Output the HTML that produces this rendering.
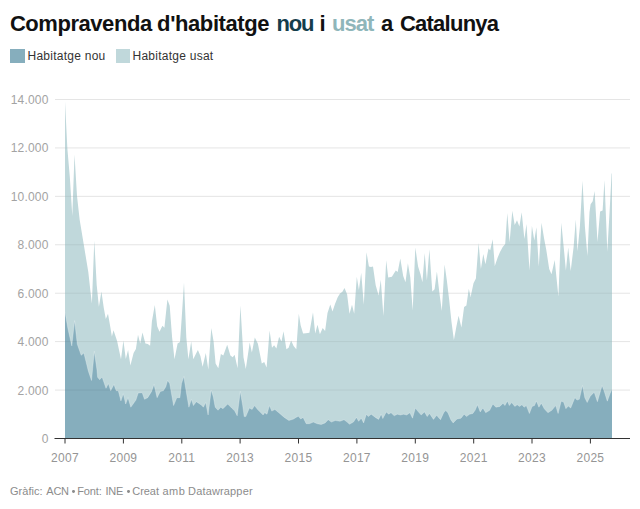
<!DOCTYPE html>
<html><head><meta charset="utf-8"><title>Compravenda d'habitatge</title>
<style>
html,body{margin:0;padding:0;background:#fff;}
body{width:640px;height:509px;position:relative;overflow:hidden;font-family:"Liberation Sans",sans-serif;}
.title{position:absolute;left:10px;top:10.5px;width:600px;height:26px;font-weight:bold;font-size:22px;line-height:26px;color:#111;white-space:nowrap;}
.title .w{position:absolute;top:0;}
.title .n{color:#143d4c;}
.title .u{color:#8fb6ba;}
.leg{position:absolute;top:49px;font-size:12px;line-height:normal;letter-spacing:0.25px;color:#333;white-space:nowrap;}
.sw{position:absolute;top:48.5px;width:14.5px;height:14px;}
.yl{position:absolute;left:0;width:48.6px;text-align:right;font-size:12px;line-height:16px;letter-spacing:0.2px;color:#a3a3a3;}
.xl{position:absolute;top:449.5px;width:50px;text-align:center;font-size:12px;line-height:16px;letter-spacing:0.3px;color:#959595;}
.foot{position:absolute;left:10px;top:485.4px;width:400px;height:14px;font-size:11px;line-height:normal;color:#8c8c8c;white-space:nowrap;}
.foot span{position:absolute;top:0;}
.foot i{position:absolute;top:4.5px;width:2.8px;height:2.8px;border-radius:50%;background:#8c8c8c;}
svg{position:absolute;left:0;top:0;}
</style></head><body>
<div class="title"><span class="w " style="left:-0.1px;letter-spacing:-0.45px">Compravenda</span><span class="w " style="left:147.1px;letter-spacing:-0.4px">d'habitatge</span><span class="w n" style="left:266.5px;letter-spacing:-1.25px">nou</span><span class="w " style="left:309.6px;letter-spacing:-1.0px">i</span><span class="w u" style="left:321.9px;letter-spacing:-0.9px">usat</span><span class="w " style="left:371.1px;letter-spacing:-1.0px">a</span><span class="w " style="left:389.9px;letter-spacing:-0.75px">Catalunya</span></div>
<div class="sw" style="left:10.2px;background:#86aebd"></div><div class="leg" style="left:27.5px">Habitatge nou</div>
<div class="sw" style="left:115.7px;background:#c0d8db"></div><div class="leg" style="left:132.5px">Habitatge usat</div>
<svg width="640" height="509" viewBox="0 0 640 509">
<line x1="55" x2="630" y1="390.07" y2="390.07" stroke="#000" stroke-opacity="0.05" stroke-width="1"/>
<line x1="55" x2="630" y1="341.64" y2="341.64" stroke="#000" stroke-opacity="0.05" stroke-width="1"/>
<line x1="55" x2="630" y1="293.21" y2="293.21" stroke="#000" stroke-opacity="0.05" stroke-width="1"/>
<line x1="55" x2="630" y1="244.78" y2="244.78" stroke="#000" stroke-opacity="0.05" stroke-width="1"/>
<line x1="55" x2="630" y1="196.35" y2="196.35" stroke="#000" stroke-opacity="0.05" stroke-width="1"/>
<line x1="55" x2="630" y1="147.92" y2="147.92" stroke="#000" stroke-opacity="0.05" stroke-width="1"/>
<line x1="55" x2="630" y1="99.49" y2="99.49" stroke="#000" stroke-opacity="0.05" stroke-width="1"/>

<polygon points="65.0,438.5 65.0,101.5 67.4,149.0 69.8,176.7 72.3,216.0 74.5,154.5 77.0,196.0 79.7,220.0 83.6,243.6 88.3,271.9 90.3,290.0 91.9,303.6 94.3,240.4 96.7,285.0 98.9,306.7 101.4,291.5 103.8,308.0 105.8,319.0 108.0,313.8 110.3,327.0 111.9,336.6 113.5,330.2 117.1,341.1 121.0,359.2 123.4,340.4 125.8,359.0 128.1,350.0 130.4,365.5 133.6,352.9 135.9,349.0 138.0,334.8 140.2,343.5 142.5,332.5 145.4,343.5 147.8,344.0 150.1,345.8 151.9,321.4 154.8,304.9 157.2,326.2 159.5,331.7 162.4,325.8 164.4,327.7 167.4,299.4 169.7,305.7 172.1,337.2 174.5,359.2 177.6,343.5 180.0,341.9 181.7,318.0 184.0,282.6 186.3,337.2 188.4,359.2 191.2,341.6 193.3,359.2 195.6,354.5 197.9,350.0 200.4,356.0 202.6,366.8 205.8,353.0 208.3,369.5 211.3,328.1 213.6,341.4 215.6,363.5 218.3,368.2 220.9,354.0 223.3,355.6 227.2,344.8 230.4,355.6 232.7,357.2 234.6,354.8 237.6,368.2 240.4,305.4 243.5,357.2 245.8,369.0 249.7,342.5 251.9,352.5 254.8,337.5 257.9,343.8 261.8,363.5 264.2,361.9 266.6,367.4 269.6,330.4 272.0,347.7 274.1,345.2 276.4,348.5 279.1,336.7 281.5,341.4 283.5,331.2 286.4,349.3 288.6,347.7 291.1,340.6 293.6,346.0 296.3,349.2 298.8,313.8 300.7,325.6 303.1,333.5 306.0,333.2 309.4,332.7 313.0,312.2 315.2,333.5 317.5,324.8 319.9,334.2 322.7,328.0 325.1,331.1 327.5,313.0 330.3,304.4 332.5,311.4 335.0,304.0 337.7,297.3 340.0,293.4 342.4,291.8 344.5,287.9 347.1,294.2 349.5,313.8 352.0,304.8 354.2,313.8 356.8,276.7 358.9,290.0 361.2,272.7 363.8,304.8 366.5,252.3 368.9,266.4 371.0,267.0 373.0,266.4 375.7,285.3 378.6,295.6 380.8,279.8 383.4,316.0 386.2,260.2 388.2,277.5 391.9,276.7 393.9,273.5 395.8,270.4 397.7,272.0 400.3,258.6 403.2,275.9 405.5,282.2 407.9,263.3 410.3,277.5 412.7,310.5 415.3,247.6 418.1,266.4 420.5,274.3 422.4,282.2 424.7,253.1 426.9,280.6 429.4,249.2 432.3,291.6 434.6,289.2 436.9,271.5 439.4,293.0 441.8,311.0 444.6,264.6 446.8,280.0 449.2,300.0 451.5,322.0 453.9,340.0 456.3,327.0 458.6,315.7 461.4,327.5 464.1,307.0 466.4,305.4 468.8,288.8 470.6,297.0 473.5,283.2 475.9,278.5 478.6,243.1 480.9,269.0 483.3,254.1 485.4,264.3 488.5,248.6 490.2,250.2 492.7,239.2 494.8,265.9 497.5,258.0 500.0,252.0 502.7,247.0 505.2,243.9 507.3,213.1 509.6,242.2 512.3,210.7 514.7,224.9 517.0,220.2 519.4,226.4 521.7,212.3 524.4,239.0 526.5,224.1 529.5,270.5 531.9,225.7 534.3,240.6 536.4,227.2 538.8,266.4 541.5,222.8 544.0,238.0 546.3,250.0 549.2,268.9 551.5,274.2 554.7,260.0 558.4,296.6 561.3,222.8 563.7,246.9 565.9,270.5 568.2,247.4 570.7,271.0 573.6,246.9 575.8,219.6 577.5,251.3 579.9,226.4 582.5,180.7 584.9,226.4 587.4,256.0 589.5,212.2 590.6,204.3 592.7,201.2 594.6,191.0 596.1,216.9 597.5,242.0 600.1,211.4 602.6,210.6 604.5,180.0 606.4,227.9 607.3,251.8 609.4,215.0 611.6,173.6 612.0,173.6 612.0,438.5" fill="#c0d8db"/>
<polygon points="65.0,438.5 65.0,312.1 67.9,328.6 71.8,345.9 74.6,320.7 77.3,344.3 81.2,355.3 83.9,353.0 88.3,371.0 91.5,380.5 94.3,351.4 96.9,369.5 97.6,377.3 99.7,379.7 102.1,377.0 106.0,388.3 108.4,383.6 110.7,390.7 113.9,384.4 116.2,390.7 118.3,390.7 120.9,400.9 123.3,393.8 125.7,404.0 128.0,397.7 130.8,407.2 135.9,400.1 138.2,393.0 142.2,392.7 144.5,399.3 147.7,397.7 151.6,391.4 154.0,384.4 157.1,397.7 160.3,391.4 163.4,390.7 165.8,386.7 167.6,380.4 169.7,383.6 173.6,405.6 176.8,397.7 179.9,397.7 181.5,383.6 183.8,376.5 186.2,391.4 188.9,407.2 191.4,399.3 193.4,405.6 196.3,401.7 201.0,404.8 203.4,407.2 205.7,402.5 208.1,415.0 211.2,389.9 213.3,396.9 215.2,407.2 218.0,410.3 220.7,407.2 223.0,408.7 227.7,404.0 231.7,408.0 234.8,411.1 237.2,415.8 240.3,391.4 242.7,405.6 244.2,416.6 245.8,416.6 249.4,408.0 252.1,409.5 254.5,405.6 257.6,409.5 263.1,415.0 264.7,412.7 267.0,414.2 269.4,405.6 271.8,411.1 274.9,409.5 278.8,412.7 284.3,417.4 288.9,420.5 293.6,419.0 296.0,417.4 298.4,416.3 300.7,419.0 303.1,417.4 306.2,423.7 309.4,423.7 313.3,422.1 317.2,423.7 321.2,424.5 325.1,422.9 328.2,419.7 331.4,422.1 335.3,420.5 340.0,421.3 344.0,419.7 347.1,422.1 349.5,424.2 353.4,422.1 356.5,417.4 358.6,421.3 361.3,418.2 363.6,422.9 366.4,414.2 368.3,416.6 371.2,414.2 375.4,417.4 378.6,419.4 381.2,414.2 382.8,418.6 386.3,411.9 388.6,414.2 391.0,412.7 394.2,415.8 397.3,414.2 400.4,415.0 403.6,414.2 406.7,415.0 409.9,412.7 412.5,418.2 415.4,408.0 417.7,411.1 421.2,415.0 424.5,411.9 427.2,416.6 429.5,413.5 433.5,419.4 436.6,415.3 440.5,419.7 443.7,412.7 445.7,410.6 447.9,412.7 450.8,419.7 453.1,422.9 457.0,419.0 461.0,418.2 464.1,414.2 466.5,416.6 469.6,414.2 472.8,413.5 475.1,410.3 477.5,404.8 480.2,411.9 482.9,408.0 485.7,412.7 489.7,410.3 492.8,404.0 495.9,407.2 499.9,406.4 503.0,403.2 504.9,405.6 507.4,400.9 509.3,405.6 511.7,402.5 514.8,406.4 517.2,404.8 519.5,406.4 521.9,404.8 524.2,407.2 526.3,405.6 529.4,413.5 532.1,406.4 534.5,405.6 536.4,400.9 538.9,407.2 541.3,403.2 544.3,408.8 547.9,412.7 551.8,410.3 555.7,405.6 558.1,413.5 561.2,401.2 563.6,402.0 565.9,408.7 568.3,406.0 570.7,408.0 574.9,397.7 577.0,400.1 579.3,399.3 582.5,385.5 584.8,397.7 587.2,402.5 590.3,396.2 594.2,392.2 597.4,401.7 602.1,385.5 604.5,392.2 607.3,401.2 610.0,393.8 612.0,389.1 612.0,438.5" fill="#86aebd"/>
<polyline points="65.0,312.1 67.9,328.6 71.8,345.9 74.6,320.7 77.3,344.3 81.2,355.3 83.9,353.0 88.3,371.0 91.5,380.5 94.3,351.4 96.9,369.5 97.6,377.3 99.7,379.7 102.1,377.0 106.0,388.3 108.4,383.6 110.7,390.7 113.9,384.4 116.2,390.7 118.3,390.7 120.9,400.9 123.3,393.8 125.7,404.0 128.0,397.7 130.8,407.2 135.9,400.1 138.2,393.0 142.2,392.7 144.5,399.3 147.7,397.7 151.6,391.4 154.0,384.4 157.1,397.7 160.3,391.4 163.4,390.7 165.8,386.7 167.6,380.4 169.7,383.6 173.6,405.6 176.8,397.7 179.9,397.7 181.5,383.6 183.8,376.5 186.2,391.4 188.9,407.2 191.4,399.3 193.4,405.6 196.3,401.7 201.0,404.8 203.4,407.2 205.7,402.5 208.1,415.0 211.2,389.9 213.3,396.9 215.2,407.2 218.0,410.3 220.7,407.2 223.0,408.7 227.7,404.0 231.7,408.0 234.8,411.1 237.2,415.8 240.3,391.4 242.7,405.6 244.2,416.6 245.8,416.6 249.4,408.0 252.1,409.5 254.5,405.6 257.6,409.5 263.1,415.0 264.7,412.7 267.0,414.2 269.4,405.6 271.8,411.1 274.9,409.5 278.8,412.7 284.3,417.4 288.9,420.5 293.6,419.0 296.0,417.4 298.4,416.3 300.7,419.0 303.1,417.4 306.2,423.7 309.4,423.7 313.3,422.1 317.2,423.7 321.2,424.5 325.1,422.9 328.2,419.7 331.4,422.1 335.3,420.5 340.0,421.3 344.0,419.7 347.1,422.1 349.5,424.2 353.4,422.1 356.5,417.4 358.6,421.3 361.3,418.2 363.6,422.9 366.4,414.2 368.3,416.6 371.2,414.2 375.4,417.4 378.6,419.4 381.2,414.2 382.8,418.6 386.3,411.9 388.6,414.2 391.0,412.7 394.2,415.8 397.3,414.2 400.4,415.0 403.6,414.2 406.7,415.0 409.9,412.7 412.5,418.2 415.4,408.0 417.7,411.1 421.2,415.0 424.5,411.9 427.2,416.6 429.5,413.5 433.5,419.4 436.6,415.3 440.5,419.7 443.7,412.7 445.7,410.6 447.9,412.7 450.8,419.7 453.1,422.9 457.0,419.0 461.0,418.2 464.1,414.2 466.5,416.6 469.6,414.2 472.8,413.5 475.1,410.3 477.5,404.8 480.2,411.9 482.9,408.0 485.7,412.7 489.7,410.3 492.8,404.0 495.9,407.2 499.9,406.4 503.0,403.2 504.9,405.6 507.4,400.9 509.3,405.6 511.7,402.5 514.8,406.4 517.2,404.8 519.5,406.4 521.9,404.8 524.2,407.2 526.3,405.6 529.4,413.5 532.1,406.4 534.5,405.6 536.4,400.9 538.9,407.2 541.3,403.2 544.3,408.8 547.9,412.7 551.8,410.3 555.7,405.6 558.1,413.5 561.2,401.2 563.6,402.0 565.9,408.7 568.3,406.0 570.7,408.0 574.9,397.7 577.0,400.1 579.3,399.3 582.5,385.5 584.8,397.7 587.2,402.5 590.3,396.2 594.2,392.2 597.4,401.7 602.1,385.5 604.5,392.2 607.3,401.2 610.0,393.8 612.0,389.1" fill="none" stroke="#ffffff" stroke-opacity="0.25" stroke-width="1" stroke-linejoin="round"/>
<line x1="55" x2="630" y1="390.07" y2="390.07" stroke="#000" stroke-opacity="0.06" stroke-width="1"/>
<line x1="55" x2="630" y1="341.64" y2="341.64" stroke="#000" stroke-opacity="0.06" stroke-width="1"/>
<line x1="55" x2="630" y1="293.21" y2="293.21" stroke="#000" stroke-opacity="0.06" stroke-width="1"/>
<line x1="55" x2="630" y1="244.78" y2="244.78" stroke="#000" stroke-opacity="0.06" stroke-width="1"/>
<line x1="55" x2="630" y1="196.35" y2="196.35" stroke="#000" stroke-opacity="0.06" stroke-width="1"/>
<line x1="55" x2="630" y1="147.92" y2="147.92" stroke="#000" stroke-opacity="0.06" stroke-width="1"/>
<line x1="55" x2="630" y1="99.49" y2="99.49" stroke="#000" stroke-opacity="0.06" stroke-width="1"/>

<line x1="54.5" x2="630" y1="438.5" y2="438.5" stroke="#333" stroke-width="1"/>
<line x1="65.0" x2="65.0" y1="438.5" y2="443.5" stroke="#333" stroke-width="1"/>
<line x1="123.4" x2="123.4" y1="438.5" y2="443.5" stroke="#333" stroke-width="1"/>
<line x1="181.8" x2="181.8" y1="438.5" y2="443.5" stroke="#333" stroke-width="1"/>
<line x1="240.1" x2="240.1" y1="438.5" y2="443.5" stroke="#333" stroke-width="1"/>
<line x1="298.5" x2="298.5" y1="438.5" y2="443.5" stroke="#333" stroke-width="1"/>
<line x1="356.9" x2="356.9" y1="438.5" y2="443.5" stroke="#333" stroke-width="1"/>
<line x1="415.3" x2="415.3" y1="438.5" y2="443.5" stroke="#333" stroke-width="1"/>
<line x1="473.7" x2="473.7" y1="438.5" y2="443.5" stroke="#333" stroke-width="1"/>
<line x1="532.0" x2="532.0" y1="438.5" y2="443.5" stroke="#333" stroke-width="1"/>
<line x1="590.4" x2="590.4" y1="438.5" y2="443.5" stroke="#333" stroke-width="1"/>

</svg>
<div class="yl" style="top:431.00px">0</div>
<div class="yl" style="top:382.57px">2.000</div>
<div class="yl" style="top:334.14px">4.000</div>
<div class="yl" style="top:285.71px">6.000</div>
<div class="yl" style="top:237.28px">8.000</div>
<div class="yl" style="top:188.85px">10.000</div>
<div class="yl" style="top:140.42px">12.000</div>
<div class="yl" style="top:91.99px">14.000</div>

<div class="xl" style="left:40.0px">2007</div>
<div class="xl" style="left:98.4px">2009</div>
<div class="xl" style="left:156.8px">2011</div>
<div class="xl" style="left:215.1px">2013</div>
<div class="xl" style="left:273.5px">2015</div>
<div class="xl" style="left:331.9px">2017</div>
<div class="xl" style="left:390.3px">2019</div>
<div class="xl" style="left:448.7px">2021</div>
<div class="xl" style="left:507.0px">2023</div>
<div class="xl" style="left:565.4px">2025</div>

<div class="foot"><span style="left:-0.1px;letter-spacing:0.05px">Gràfic:</span> <span style="left:36.3px;letter-spacing:-0.25px">ACN</span> <i style="left:62.1px"></i> <span style="left:67.2px;letter-spacing:-0.1px">Font:</span> <span style="left:95.6px;letter-spacing:-0.3px">INE</span> <i style="left:117.1px"></i> <span style="left:122.3px;letter-spacing:-0.05px">Creat</span> <span style="left:152.5px;letter-spacing:0.45px">amb</span> <span style="left:178.1px;letter-spacing:0.15px">Datawrapper</span> </div>
</body></html>
